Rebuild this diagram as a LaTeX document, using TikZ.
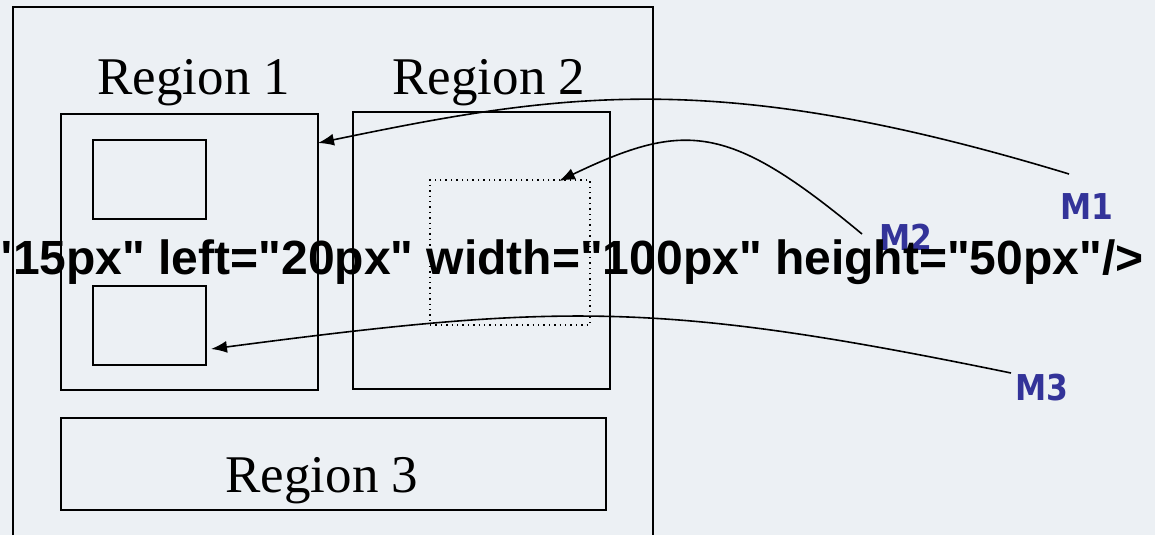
\documentclass[tikz,border=0pt]{standalone}
\usepackage{fontspec}
\setmainfont{Liberation Serif}
\newfontfamily\argfont{Liberation Sans}
\newfontfamily\mfont[FakeStretch=0.88]{DejaVu Sans}
\usetikzlibrary{arrows.meta}
\definecolor{bgc}{HTML}{ECF0F4}
\definecolor{mblue}{HTML}{333399}
\tikzset{
  boxline/.style={draw=black, line width=1pt},
  regbox/.style={boxline, rectangle, inner sep=0pt, outer sep=0pt},
  dotbox/.style={draw=black, line width=0.7pt, dotted, rectangle, inner sep=0pt, outer sep=0pt},
  reglabel/.style={inner sep=0pt, anchor=base west, font=\fontsize{26.5}{31}\selectfont},
  mlabel/.style={inner sep=0pt, text=mblue, font=\mfont\bfseries\fontsize{17.8}{22}\selectfont},
  bigtext/.style={inner sep=0pt, anchor=base west, font=\argfont\bfseries\fontsize{24}{29}\selectfont},
  arr/.style={draw=black, line width=0.8pt, -{Latex[length=8pt,width=6pt]}}
}
\begin{document}
\begin{tikzpicture}[x=0.5pt,y=-0.5pt]
\useasboundingbox (0,0) rectangle (1155,535);
\fill[bgc] (0,0) rectangle (1155,535);
% outer frame
\draw[boxline] (13,535) |- (653,7) -- (653,535);
% regions
\node[regbox, minimum width=128.5pt, minimum height=138pt] (r1) at (189.5,252) {};
\node[regbox, minimum width=56.5pt, minimum height=39.5pt] (r1a) at (149.5,179.5) {};
\node[regbox, minimum width=56.5pt, minimum height=39.5pt] (r1b) at (149.5,325.5) {};
\node[regbox, minimum width=128.5pt, minimum height=138.5pt] (r2) at (481.5,250.5) {};
\node[dotbox, minimum width=80pt, minimum height=72.5pt] (r2a) at (510,252.5) {};
\node[regbox, minimum width=272.5pt, minimum height=46pt] (r3) at (333.5,464) {};
% labels
\node[reglabel] (l1) at (97,95) {Region 1};
\node[reglabel] (l2) at (392,95) {Region 2};
\node[reglabel] (l3) at (225,492) {Region 3};
% markers
\node[mlabel] (m1) at (1087,207) {M1};
\node[mlabel] (m2) at (906,237) {M2};
\node[mlabel] (m3) at (1042,388) {M3};
% connector ends
\coordinate (s1) at (1069,174);
\coordinate (e1) at (318,143);
\coordinate (s2) at (862,234);
\coordinate (e2) at (559,181);
\coordinate (s3) at (1011,373);
\coordinate (e3) at (211,349);
\draw[arr] (s1) .. controls (720,68) and (564,92) .. (e1);
\draw[arr] (s2) .. controls (729.5,124) and (686,120) .. (e2);
\draw[arr] (s3) .. controls (661,301) and (561,303) .. (e3);
% overlay text
\node[bigtext] (code) at (-10,274) {"15px" left="20px" width="100px" height="50px"/>};
\end{tikzpicture}
\end{document}
